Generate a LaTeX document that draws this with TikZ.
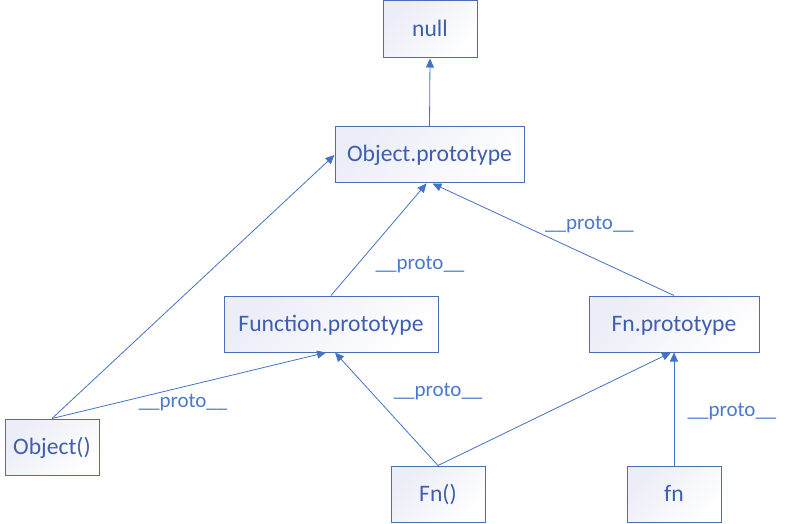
\documentclass[tikz,border=0pt]{standalone}
\usepackage{fontspec}
\setmainfont{Carlito}
\usetikzlibrary{arrows.meta}
\definecolor{edgeblue}{HTML}{4472C4}
\definecolor{boxborder}{HTML}{4A6DB8}
\definecolor{boxtext}{HTML}{3F5FAE}
\definecolor{boxshade}{HTML}{EBEDF7}
\definecolor{labelblue}{HTML}{4A78CC}
\tikzset{
  objbox/.style={draw=boxborder, line width=1pt, top color=boxshade, bottom color=white, shading angle=45,
    text=boxtext, font=\fontsize{23.6}{26}\selectfont, inner sep=0pt, anchor=center,
    text height=16pt, text depth=2pt},
  link/.style={draw=edgeblue, line width=0.8pt, -{Triangle[length=9pt,width=8pt]}},
  protolabel/.style={text=labelblue, font=\fontsize{21}{24}\selectfont, inner sep=0pt, anchor=center}
}
\begin{document}
\begin{tikzpicture}[x=1pt,y=-1pt]
\useasboundingbox (0,0) rectangle (788,524);
\node[objbox, minimum width=94pt, minimum height=57pt] (null) at (430,29.5) {null};
\node[objbox, minimum width=189pt, minimum height=56pt] (op) at (429.5,155) {Object.prototype};
\node[objbox, minimum width=214pt, minimum height=56pt] (fp) at (331,324) {Function.prototype};
\node[objbox, minimum width=170pt, minimum height=56pt] (fnp) at (674,324) {Fn.prototype};
\node[objbox, minimum width=94pt, minimum height=56pt] (obj) at (52,447) {Object()};
\node[objbox, minimum width=94pt, minimum height=56pt] (Fn) at (438,494) {Fn()};
\node[objbox, minimum width=94pt, minimum height=56pt] (fn) at (674,494) {fn};

\coordinate (opS1) at ([xshift=-3pt]op.south);
\coordinate (opS2) at ([xshift=3pt]op.south);
\coordinate (fpS1) at ([xshift=-5pt]fp.south);
\coordinate (fpS2) at ([xshift=4pt]fp.south);
\coordinate (fnpS1) at ([xshift=-3pt]fnp.south);

\draw[link] (op.north) -- (null.south);
\draw[link] (fp.north) -- (opS1);
\draw[link] (fnp.north) -- (opS2);
\draw[link] (obj.north) -- (op.west);
\draw[link] (obj.north) -- (fpS1);
\draw[link] (Fn.north) -- (fpS2);
\draw[link] (Fn.north) -- (fnpS1);
\draw[link] (fn.north) -- (fnp.south);

\node[protolabel] (l1) at (420,265) {\_\_proto\_\_};
\node[protolabel] (l2) at (589.5,225) {\_\_proto\_\_};
\node[protolabel] (l3) at (183,403) {\_\_proto\_\_};
\node[protolabel] (l4) at (438,392) {\_\_proto\_\_};
\node[protolabel] (l5) at (732,412) {\_\_proto\_\_};
\end{tikzpicture}
\end{document}
